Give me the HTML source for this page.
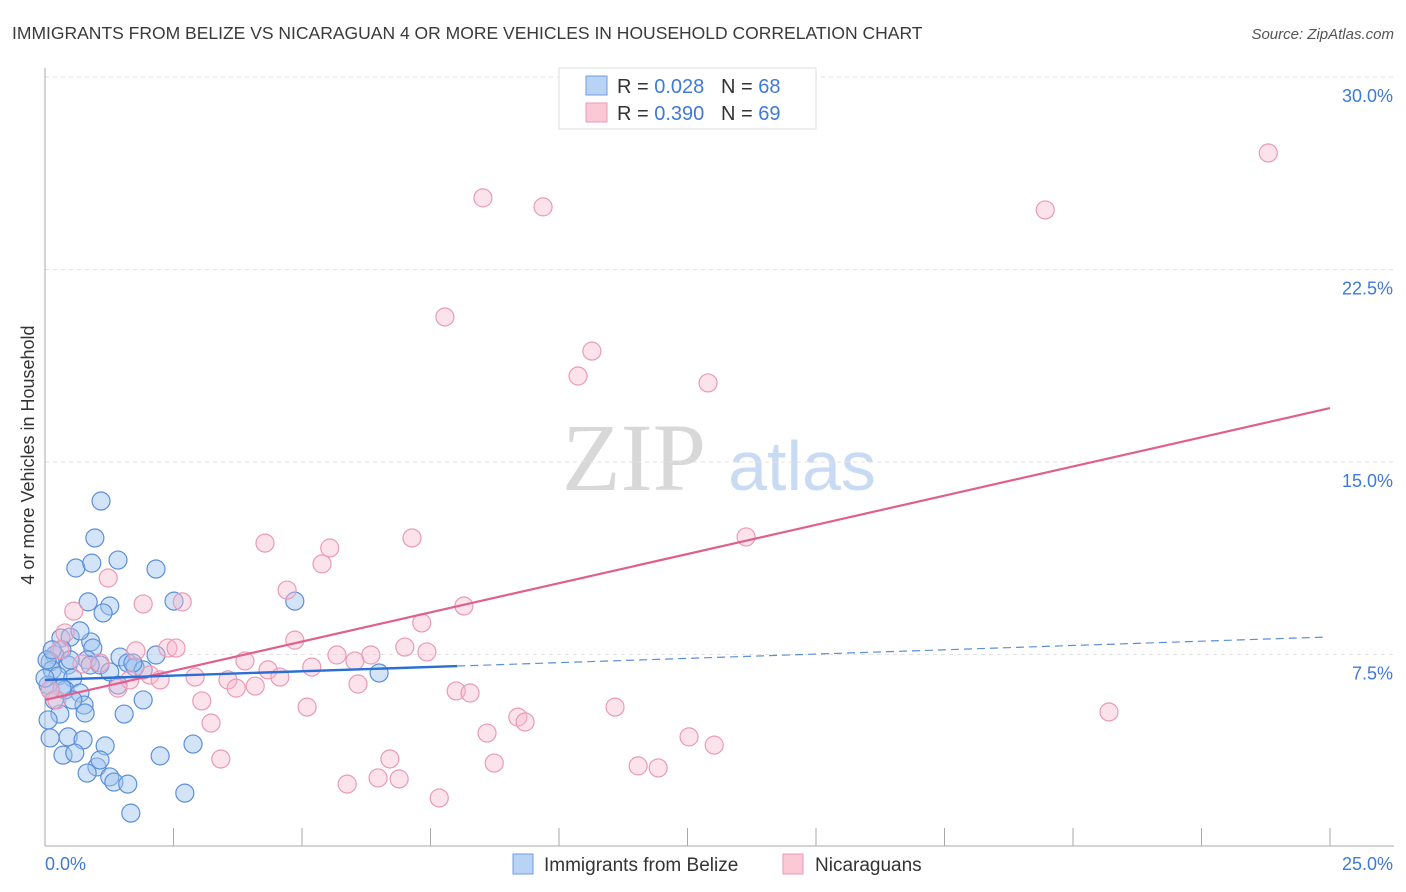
<!DOCTYPE html>
<html><head><meta charset="utf-8"><style>
body{margin:0;background:#fff;font-family:"Liberation Sans",sans-serif;}
svg{display:block}
</style></head><body>
<svg id="c" width="1406" height="892">
<text x="12" y="39" font-size="17.5" fill="#3a3a3a">IMMIGRANTS FROM BELIZE VS NICARAGUAN 4 OR MORE VEHICLES IN HOUSEHOLD CORRELATION CHART</text>
<text x="1394" y="39" font-size="15" fill="#555" font-style="italic" text-anchor="end">Source: ZipAtlas.com</text>
<text x="634" y="490" font-size="96" fill="#d8d8d8" text-anchor="middle" font-family="Liberation Serif, serif">ZIP</text>
<text x="802" y="490" font-size="70" fill="#c9dbf3" text-anchor="middle">atlas</text>
<g id="grid"></g>
<g id="axes"></g>
<g id="pts"></g>
<g id="trend"></g>
<text transform="translate(34,455) rotate(-90)" font-size="18" fill="#333" text-anchor="middle">4 or more Vehicles in Household</text>
<g>
<rect x="559" y="68" width="257" height="61" fill="#fff" stroke="#ddd"/>
<rect x="586" y="76" width="21" height="19" fill="#b9d3f5" stroke="#6f9ee0"/>
<rect x="586" y="103" width="21" height="19" fill="#fac8d6" stroke="#ec9ab5"/>
<text x="617" y="93" font-size="20" fill="#333">R = <tspan fill="#3f7ad6">0.028</tspan>&#160;&#160;&#160;N = <tspan fill="#3f7ad6">68</tspan></text>
<text x="617" y="120" font-size="20" fill="#333">R = <tspan fill="#3f7ad6">0.390</tspan>&#160;&#160;&#160;N = <tspan fill="#3f7ad6">69</tspan></text>
</g>
<rect x="513" y="854" width="20" height="20" fill="#b9d3f5" stroke="#6f9ee0"/>
<text x="544" y="871" font-size="19" fill="#333">Immigrants from Belize</text>
<rect x="783" y="854" width="20" height="20" fill="#fac8d6" stroke="#ec9ab5"/>
<text x="815" y="871" font-size="19" fill="#333">Nicaraguans</text>
</svg>
<script>
const belizeX=[1.09,0.97,1.42,0.60,0.91,2.16,0.84,1.26,2.51,4.86,1.13,0.31,0.49,0.89,0.68,0.93,0.33,0.19,0.10,0.45,0.82,1.07,1.46,1.61,1.75,2.16,1.91,0.14,0.25,0.54,0.06,0.39,0.68,1.42,0.76,0.29,0.78,1.54,1.91,6.50,0.10,0.45,0.74,1.17,2.88,2.24,0.35,0.58,1.01,0.82,1.26,1.34,1.61,2.72,1.67,0.18,0.06,0.04,0.14,0.54,0.33,1.26,0.88,1.71,0.10,0.49,0.00,1.07];
const belizeY=[13.48,12.04,11.18,10.87,11.06,10.83,9.55,9.39,9.58,9.58,9.12,8.14,8.18,7.99,8.42,7.75,7.68,7.48,7.21,7.09,7.29,7.09,7.40,7.17,7.01,7.48,6.90,6.90,6.66,6.58,6.31,6.12,6.00,6.31,5.53,5.18,5.22,5.18,5.73,6.78,4.25,4.29,4.17,3.94,4.01,3.55,3.58,3.66,3.12,2.88,2.73,2.53,2.45,2.10,1.32,5.73,4.95,7.29,7.68,5.73,6.19,6.82,7.09,7.17,6.12,7.29,6.58,3.39];
const nicX=[23.80,8.52,9.69,19.46,7.78,10.64,10.37,12.90,4.28,7.14,13.64,5.54,5.39,1.23,4.71,1.91,2.67,0.56,8.15,4.86,7.33,0.39,2.39,2.55,1.77,1.07,0.72,3.89,4.34,4.57,5.19,5.68,6.03,6.34,7.00,7.43,2.04,2.24,2.92,3.56,3.72,4.09,1.42,6.09,8.00,8.27,3.05,5.10,11.09,20.70,3.23,9.20,9.34,8.60,12.53,13.02,3.42,6.71,8.74,11.54,11.93,6.48,6.89,5.88,7.67,0.23,0.10,0.29,1.65];
const nicY=[27.04,25.29,24.94,24.82,20.65,19.32,18.35,18.08,11.84,12.04,12.08,11.65,11.03,10.48,10.01,9.47,9.55,9.19,9.39,8.06,8.73,8.34,7.75,7.75,7.64,7.17,7.13,7.25,6.90,6.62,7.01,7.48,7.25,7.48,7.79,7.60,6.70,6.51,6.62,6.51,6.19,6.27,6.19,6.35,6.08,6.00,5.69,5.45,5.45,5.26,4.83,5.06,4.87,4.44,4.29,3.97,3.43,3.43,3.27,3.16,3.08,2.69,2.65,2.45,1.91,5.73,6.12,7.68,6.51];
const belizeTrendX=[0,8.02,24.92];
const belizeTrendY=[6.51,7.05,8.18];
const nicTrendX=[0,25];
const nicTrendY=[5.73,17.10];
const yTicks=[7.5,15,22.5,30];
const yTickLabels=["7.5%","15.0%","22.5%","30.0%"];
const xTicks=[0,2.5,5,7.5,10,12.5,15,17.5,20,22.5,25];

const NS="http://www.w3.org/2000/svg";
const X=v=>45+v*(1285/25);
const Y=v=>847-v*(192.5/7.5);
function mk(tag,attrs,parent){const e=document.createElementNS(NS,tag);for(const k in attrs)e.setAttribute(k,attrs[k]);parent.appendChild(e);return e;}
const grid=document.getElementById('grid'),axes=document.getElementById('axes'),pts=document.getElementById('pts'),trend=document.getElementById('trend');
yTicks.forEach((t,i)=>{
  const l=mk('line',{x1:45,x2:1394,y1:Y(t),y2:Y(t),stroke:'#e2e2e2','stroke-dasharray':'4,4'},grid);
  
  
  const tx=mk('text',{x:1393,y:Y(t)+25,'font-size':18,fill:'#3f7ad6','text-anchor':'end'},axes);
  tx.textContent=yTickLabels[i];
  
  
});
const ax=mk('line',{x1:45,x2:45,y1:68,y2:846,stroke:'#aaa'},axes);


const bx=mk('line',{x1:45,x2:1394,y1:846,y2:846,stroke:'#aaa'},axes);


xTicks.forEach(t=>{
  const l=mk('line',{x1:X(t),x2:X(t),y1:828,y2:846,stroke:'#aaa'},axes);
  
  
});
const xl0=mk('text',{x:45,y:870,'font-size':18,fill:'#3f7ad6'},axes);
xl0.textContent="0.0%";


const xl1=mk('text',{x:1393,y:870,'font-size':18,fill:'#3f7ad6','text-anchor':'end'},axes);
xl1.textContent="25.0%";



belizeX.forEach((v,i)=>{
  const c=mk('circle',{cx:X(v),cy:Y(belizeY[i]),r:9,fill:'rgba(160,195,240,0.45)',stroke:'#5b8fd9','stroke-width':1.2},pts);
  
  
});
nicX.forEach((v,i)=>{
  const c=mk('circle',{cx:X(v),cy:Y(nicY[i]),r:9,fill:'rgba(248,185,205,0.4)',stroke:'#ea9ab5','stroke-width':1.2},pts);
  
  
});
const pl=mk('line',{x1:X(nicTrendX[0]),y1:Y(nicTrendY[0]),x2:X(nicTrendX[1]),y2:Y(nicTrendY[1]),stroke:'#e0608d','stroke-width':2.2},trend);


const bl=mk('line',{x1:X(belizeTrendX[0]),y1:Y(belizeTrendY[0]),x2:X(belizeTrendX[1]),y2:Y(belizeTrendY[1]),stroke:'#2a6fd6','stroke-width':2.4},trend);


const bd=mk('line',{x1:X(belizeTrendX[1]),y1:Y(belizeTrendY[1]),x2:X(belizeTrendX[2]),y2:Y(belizeTrendY[2]),stroke:'#5b8fd9','stroke-width':1.2,'stroke-dasharray':'8,5'},trend);


</script>
</body></html>
